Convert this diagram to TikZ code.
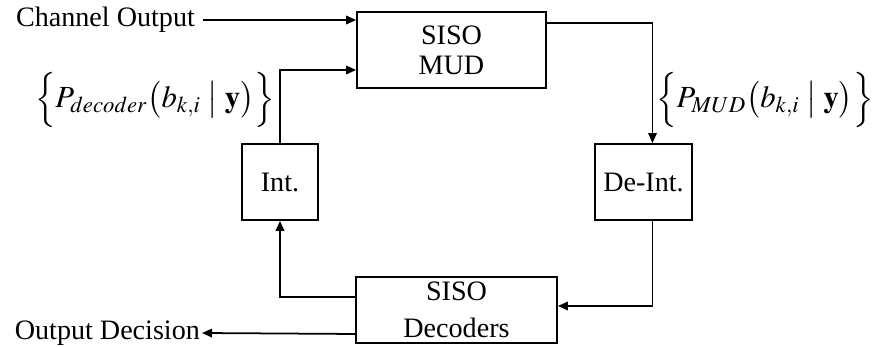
\documentclass[tikz,border=0pt]{standalone}
\usepackage{mathptmx}
\usepackage{fontspec}
\setmainfont{Liberation Serif}
\usepackage{tikz}
\usetikzlibrary{positioning,arrows.meta,calc}
\tikzset{
  turbo/box/.style={draw, line width=1pt, align=center, inner sep=2pt,
                    font=\fontsize{16}{17}\selectfont},
  turbo/arrow/.style={-{Triangle[length=2mm,width=1.7mm]}, line width=1pt},
  turbo/lbl/.style={font=\fontsize{16}{19}\selectfont, inner sep=1pt},
  turbo/math/.style={font=\fontsize{17.5}{20}\selectfont, inner sep=0.5pt},
}

\begin{document}
\begin{tikzpicture}[x=0.02cm, y=-0.02cm]
  \useasboundingbox (0,0) rectangle (877,347);

  \node[turbo/box, minimum width=3.78cm, minimum height=1.52cm] (mud) at (451.5,50) {SISO\\MUD};
  \node[turbo/box, minimum width=1.52cm, minimum height=1.52cm] (int) at (280,182) {Int.};
  \node[turbo/box, minimum width=1.94cm, minimum height=1.52cm] (deint) at (643.5,182) {De-Int.};
  \node[turbo/box, minimum width=4.02cm, minimum height=1.32cm] (dec) at (456.5,310) {SISO\\[4pt]Decoders};

  \node[turbo/lbl, anchor=east] (chout) at (197,20) {Channel Output};
  \node[turbo/lbl, anchor=east] (outdec) at (202,333) {Output Decision};

  % ---------------- inputs of the MUD ----------------
  \draw[turbo/arrow] (chout.east -| 203,0) -- ([yshift=0.6cm]mud.west);
  \draw[turbo/arrow] (int.north) |- ([yshift=-0.4cm]mud.west);

  % ---------------- MUD -> De-Int. -> decoders ----------------
  \draw[turbo/arrow] ([yshift=0.54cm]mud.east) -| ([xshift=0.18cm]deint.north);
  \draw[turbo/arrow] ([xshift=0.18cm]deint.south) |- ([yshift=0.08cm]dec.east);

  % ---------------- decoders -> Int. and output ----------------
  \draw[turbo/arrow] ([yshift=0.26cm]dec.west) -| (int.south);
  \draw[turbo/arrow] ([yshift=-0.48cm]dec.west) -- (outdec.east);

  % ---------------- soft information ----------------
  \node[turbo/math, anchor=east] (pdec) at (276,100)
    {$\Bigl\{P_{decoder}\bigl(b_{k,i}\bigm|\mathbf{y}\bigr)\Bigr\}$};
  \node[turbo/math, anchor=west] (pmud) at (655,100)
    {$\Bigl\{P_{MUD}\bigl(b_{k,i}\bigm|\mathbf{y}\bigr)\Bigr\}$};

\end{tikzpicture}
\end{document}
